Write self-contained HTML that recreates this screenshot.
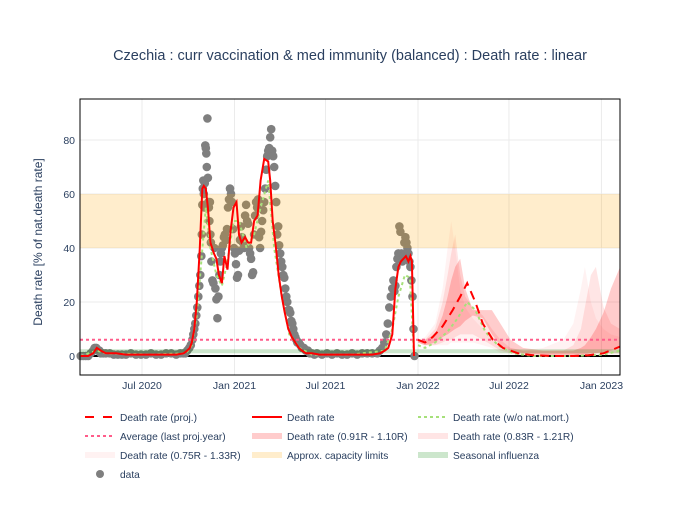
<!DOCTYPE html>
<html><head><meta charset="utf-8"><style>
body{margin:0;background:#fff;font-family:"Liberation Sans","Open Sans",sans-serif;}
svg text{font-family:"Liberation Sans",sans-serif;fill:#2a3f5f;}
</style></head><body>
<svg id="chart" width="700" height="500" viewBox="0 0 700 500">
<rect width="700" height="500" fill="#fff"/>
<text x="350" y="60" font-size="14.5" text-anchor="middle">Czechia : curr vaccination &amp; med immunity (balanced) : Death rate : linear</text>
<g id="grid"></g><g id="marks"></g><g id="axes"></g><g id="legend"></g>
</svg>
<script>
// ---- data (x = day since 2020-01-01, y = % of nat. death rate)
const yTicks=[0,20,40,60,80];
const xTickDays=[182,366,547,731,912,1096];
const xTickLabels=["Jul 2020","Jan 2021","Jul 2021","Jan 2022","Jul 2022","Jan 2023"];
const capacityRange=[40,60];
const fluRange=[1,2.5];
const avgLastYear=6;
const rateDays=[60,75,85,92,100,110,130,150,200,250,265,272,277,281,286,291,297,302,305,309,313,318,325,330,335,341,346,352,358,364,370,375,380,387,393,399,405,412,418,425,433,437,442,448,454,460,466,473,480,487,494,500,508,520,535,560,600,640,655,665,672,680,686,692,697,702,707,712,716,719,723];
const rateVals=[0,0,1,3,2,1,1,0.5,0.5,0.5,1,2,3,5,10,20,40,62,63,62,55,42,38,36,30,27,37,32,46,55,57,45,42,44,42,42,50,52,65,73,72,65,50,41,30,22,16,10,7,5,3,2,1,1,0.5,0.5,0.5,0.5,1,2,3,8,25,33,35,36,37,35,37,35,0];
const womDays=[60,92,110,200,270,281,291,300,309,318,330,341,352,364,375,390,405,418,433,445,460,475,495,520,600,665,680,692,705,715,723];
const womVals=[0,2,1,0.5,1,4,15,35,55,40,30,26,35,50,50,40,45,55,65,40,22,8,3,0.5,0.5,2,10,22,30,29,0];
const projDays=[731,745,760,780,800,815,829,845,860,880,900,930,960,1000,1040,1070,1100,1133];
const projVals=[6,5,7,11,17,22,27,20,12,6,3,1,0.3,0,0,0.3,1,3.5];
const projWomDays=[731,745,765,790,810,829,845,865,890,920,960,1040,1100,1133];
const projWomVals=[4,3,5,9,14,20,17,9,4,1,0,0,0.5,2];
const bandDays=[731,745,765,780,790,797,805,815,825,840,860,878,895,915,940,980,1020,1040,1055,1063,1075,1085,1100,1115,1133];
const b91Up=[6,6,8,15,22,28,33,36,25,17,17,17,12,6,3,2,2,2,3,4,7,10,16,25,33];
const b91Lo=[5,4,5,7,8,9,10,11,13,15,14,8,4,2,1,0.5,0.5,0.5,0.5,0.5,1,1,1.5,2,3];
const b83Up=[6,6,10,20,30,38,45,30,22,18,15,10,6,3,2,2,2,4,10,18,30,33,18,12,10];
const b83Lo=[5,4,4,5,6,6,7,8,8,8,6,4,2,1,0.5,0,0,0,0.5,0.5,0.5,1,1,1,1];
const b75Up=[6,7,12,25,40,50,40,25,18,14,10,7,4,3,2,3,6,12,25,33,20,14,10,8,7];
const b75Lo=[5,4,4,4,4,5,5,5,5,5,4,3,1,1,0,0,0,0,0,0,0,0.5,0.5,0.5,0.5];
const dotDays=[60,65,70,75,80,85,88,91,94,97,100,105,110,118,126,134,142,150,160,170,180,190,200,210,220,230,240,250,258,264,268,272,276,279,282,284,286,288,290,292,294,296,298,300,301,302,303,304,305,306,307,308,309,310,311,312,313,314,315,316,317,318,319,320,322,324,326,328,330,332,334,336,338,339,341,343,345,347,349,351,353,355,357,359,361,363,365,367,369,371,373,375,377,379,381,383,385,387,389,391,393,395,397,399,401,403,405,407,409,411,413,415,417,419,421,423,425,427,429,431,433,435,437,439,441,443,445,447,449,451,453,455,457,459,461,463,465,467,469,471,473,475,477,479,481,483,485,487,489,491,494,497,500,504,508,512,516,520,525,530,540,550,560,570,580,590,600,610,620,630,640,650,655,660,664,668,671,674,677,680,682,684,686,688,690,692,694,696,698,700,702,704,706,708,710,712,714,716,718,720,722,724];
const dotVals=[0,0,0,0,1,2,3,3,2,2,1,1,1,1,0.5,0.5,0.5,0.5,1,0.5,0.5,0.5,1,0.5,0.5,1,1,0.5,1,1,1,2,3,4,6,8,10,12,15,18,22,26,30,37,45,56,62,65,60,55,64,78,77,75,70,88,66,57,55,50,57,45,42,35,28,27,40,25,21,14,22,30,35,38,40,41,44,45,43,47,55,58,62,60,57,47,40,38,34,29,30,39,43,48,44,42,40,52,56,50,49,40,38,36,30,31,45,52,57,55,58,44,40,46,50,54,57,62,69,74,76,77,81,84,76,74,70,63,57,45,48,41,38,35,33,30,29,25,22,20,17,17,16,13,12,10,8,7,6,5,5,4,3,3,2,2,1,1,0.5,1,0.5,1,0.5,1,0.5,0.5,1,0.5,1,1,1,1,2,3,5,8,12,18,22,25,28,24,26,33,36,38,48,46,38,35,37,42,44,42,40,38,35,33,28,22,10,0];

// ---- axes
const X0=80,X1=620,Y0=99,Y1=375;
const xs=d=>142+(d-182)*0.5027;
const ys=v=>356-v*2.7;
const NS="http://www.w3.org/2000/svg";
function mk(tag,attrs,parent){const e=document.createElementNS(NS,tag);for(const k in attrs)e.setAttribute(k,attrs[k]);document.getElementById(parent).appendChild(e);return e;}
function linePts(d,v){return d.map((x,i)=>xs(x).toFixed(1)+","+ys(v[i]).toFixed(1)).join(" ");}
function bandPts(d,up,lo){let p=d.map((x,i)=>xs(x).toFixed(1)+","+ys(up[i]).toFixed(1));for(let i=d.length-1;i>=0;i--)p.push(xs(d[i]).toFixed(1)+","+ys(lo[i]).toFixed(1));return p.join(" ");}

// grid
yTicks.forEach(t=>{if(t>0){const g=mk('line',{x1:X0,x2:X1,y1:ys(t),y2:ys(t),stroke:'#ebebeb','stroke-width':1},'grid');

}});
xTickDays.forEach(d=>{const g=mk('line',{x1:xs(d),x2:xs(d),y1:Y0,y2:Y1,stroke:'#ebebeb','stroke-width':1},'grid');

});

// black zero line
const z=mk('line',{x1:X0,x2:X1,y1:ys(0),y2:ys(0),stroke:'#000','stroke-width':2},'marks');



// bands
const bb75=mk('polygon',{points:bandPts(bandDays,b75Up,b75Lo),fill:'rgba(255,0,0,0.05)'},'marks');


const bb83=mk('polygon',{points:bandPts(bandDays,b83Up,b83Lo),fill:'rgba(255,0,0,0.1)'},'marks');


const bb91=mk('polygon',{points:bandPts(bandDays,b91Up,b91Lo),fill:'rgba(255,0,0,0.2)'},'marks');



// dots
dotDays.forEach((d,i)=>{const c=mk('circle',{cx:xs(d).toFixed(1),cy:ys(dotVals[i]).toFixed(1),r:4.3,fill:'#7f7f7f'},'marks');

});

// capacity band & flu band
const cap=mk('rect',{x:X0,y:ys(capacityRange[1]),width:X1-X0,height:ys(capacityRange[0])-ys(capacityRange[1]),fill:'rgba(255,165,0,0.2)'},'marks');


const flu=mk('rect',{x:X0,y:ys(fluRange[1]),width:X1-X0,height:ys(fluRange[0])-ys(fluRange[1]),fill:'rgba(0,128,0,0.2)'},'marks');



// average line
const av=mk('line',{x1:X0,x2:X1,y1:ys(avgLastYear),y2:ys(avgLastYear),stroke:'#ff5c8a','stroke-width':2,'stroke-dasharray':'3,3'},'marks');



// lines
const gw=mk('polyline',{points:linePts(womDays,womVals),fill:'none',stroke:'#a6e07a','stroke-width':2,'stroke-dasharray':'3,3'},'marks');


const gpw=mk('polyline',{points:linePts(projWomDays,projWomVals),fill:'none',stroke:'#a6e07a','stroke-width':2,'stroke-dasharray':'3,3'},'marks');


const rl=mk('polyline',{points:linePts(rateDays,rateVals),fill:'none',stroke:'#ff0000','stroke-width':2},'marks');


const pl=mk('polyline',{points:linePts(projDays,projVals),fill:'none',stroke:'#ff0000','stroke-width':2,'stroke-dasharray':'9,6'},'marks');



// axes frame & labels
const fr=mk('rect',{x:X0,y:Y0,width:X1-X0,height:Y1-Y0,fill:'none',stroke:'#000','stroke-width':1},'axes');


yTicks.forEach(t=>{const e=mk('text',{x:75,y:ys(t)+4,'font-size':10.5,'text-anchor':'end'},'axes');e.textContent=t;

});
xTickDays.forEach((d,i)=>{const e=mk('text',{x:xs(d),y:389,'font-size':10.5,'text-anchor':'middle'},'axes');e.textContent=xTickLabels[i];

});
const yt=mk('text',{x:0,y:0,'font-size':12,'text-anchor':'middle',transform:'translate(42,242) rotate(-90)'},'axes');
yt.textContent='Death rate [% of nat.death rate]';



// legend
const leg=[
 ['Death rate (proj.)','dash',85,417],['Death rate','line',252,417],['Death rate (w/o nat.mort.)','gdot',418,417],
 ['Average (last proj.year)','pdot',85,436],['Death rate (0.91R - 1.10R)','rgba(255,0,0,0.2)',252,436],['Death rate (0.83R - 1.21R)','rgba(255,0,0,0.1)',418,436],
 ['Death rate (0.75R - 1.33R)','rgba(255,0,0,0.05)',85,455],['Approx. capacity limits','rgba(255,165,0,0.2)',252,455],['Seasonal influenza','rgba(0,128,0,0.2)',418,455],
 ['data','dot',85,474]];
leg.forEach(([label,kind,x,y])=>{
 const g=mk('g',{},'legend');
 
 
 const add=(t,a)=>{const e=document.createElementNS(NS,t);for(const k in a)e.setAttribute(k,a[k]);g.appendChild(e);return e;};
 if(kind==='dash')add('line',{x1:x,x2:x+27,y1:y,y2:y,stroke:'#f00','stroke-width':2,'stroke-dasharray':'9,9'});
 else if(kind==='line')add('line',{x1:x,x2:x+30,y1:y,y2:y,stroke:'#f00','stroke-width':2});
 else if(kind==='gdot')add('line',{x1:x,x2:x+30,y1:y,y2:y,stroke:'#a6e07a','stroke-width':2,'stroke-dasharray':'3,3'});
 else if(kind==='pdot')add('line',{x1:x,x2:x+30,y1:y,y2:y,stroke:'#ff5c8a','stroke-width':2,'stroke-dasharray':'3,3'});
 else if(kind==='dot')add('circle',{cx:x+15,cy:y,r:4,fill:'#7f7f7f'});
 else add('rect',{x:x,y:y-3,width:30,height:6,fill:kind});
 const t=add('text',{x:x+35,y:y+4,'font-size':10.2});t.textContent=label;
});
</script>
</body></html>
